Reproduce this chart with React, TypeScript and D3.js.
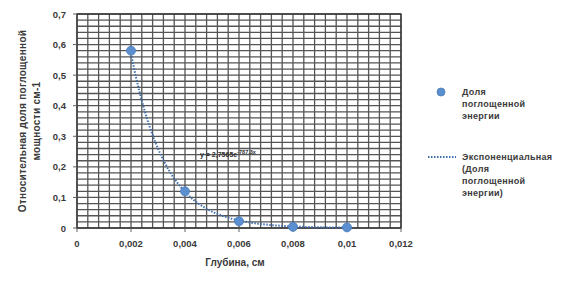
import React from "react";
import * as d3 from "d3";

const depths = [0.002, 0.004, 0.006, 0.008, 0.01];
const shares = [0.58, 0.12, 0.022, 0.004, 0.002];
const xTicks = [0, 0.002, 0.004, 0.006, 0.008, 0.01, 0.012];
const xTickLabels = ["0", "0,002", "0,004", "0,006", "0,008", "0,01", "0,012"];
const yTicks = [0, 0.1, 0.2, 0.3, 0.4, 0.5, 0.6, 0.7];
const yTickLabels = ["0", "0,1", "0,2", "0,3", "0,4", "0,5", "0,6", "0,7"];
const trendA = 2.7565;
const trendB = -787.3;
const legendSeries = ["Доля", "поглощенной", "энергии"];
const legendTrend = ["Экспоненциальная", "(Доля", "поглощенной", "энергии)"];
const yTitle = ["Относительная доля поглощенной", "мощности см-1"];
const xTitle = "Глубина, см";

const W = 568, H = 287;
const left = 77, right = 401, top = 14, bottom = 228;
const font = "'Liberation Sans', Arial, sans-serif";
const txt = "#3a3a3a";

export default function App() {
  const x = d3.scaleLinear().domain([0, 0.012]).range([left, right]);
  const y = d3.scaleLinear().domain([0, 0.7]).range([bottom, top]);
  const xGrid = d3.range(0, 31).map((i) => i * 0.0004);
  const yGrid = d3.range(0, 36).map((i) => i * 0.02);
  const trendXs = d3.range(0, 81).map((i) => depths[0] + (i / 80) * (depths[depths.length - 1] - depths[0]));
  const trendLine = d3
    .line<number>()
    .x((d) => x(d))
    .y((d) => y(trendA * Math.exp(trendB * d)))
    .curve(d3.curveMonotoneX);

  return (
    <svg width={W} height={H} style={{ position: "absolute", left: 0, top: 0 }} fontFamily={font}>
      <rect x={0} y={0} width={W} height={H} fill="#fff" />
      {xGrid.map((v, i) => (
        <line key={"xg" + i} x1={x(v)} x2={x(v)} y1={top} y2={bottom} stroke="#555" strokeWidth={1.3} />
      ))}
      {yGrid.map((v, i) => (
        <line key={"yg" + i} x1={left} x2={right} y1={y(v)} y2={y(v)} stroke="#555" strokeWidth={1.3} />
      ))}
      <rect x={left} y={top} width={right - left} height={bottom - top} fill="none" stroke="#333" strokeWidth={1.3} />
      {yTicks.map((v, i) => (
        <line key={"yt" + i} x1={left - 4} x2={left} y1={y(v)} y2={y(v)} stroke="#606060" />
      ))}
      {xTicks.map((v, i) => (
        <line key={"xt" + i} x1={x(v)} x2={x(v)} y1={bottom} y2={bottom + 4} stroke="#606060" />
      ))}
      {yTicks.map((v, i) => (
        <text key={"yl" + i} x={66} y={y(v) + 3.5} textAnchor="end" fontSize={9.5} fontWeight="bold" fill={txt}>
          {yTickLabels[i]}
        </text>
      ))}
      {xTicks.map((v, i) => (
        <text key={"xl" + i} x={x(v)} y={247} textAnchor="middle" fontSize={9.5} fontWeight="bold" fill={txt}>
          {xTickLabels[i]}
        </text>
      ))}
      <text x={235} y={266} textAnchor="middle" fontSize={10} fontWeight="bold" fill={txt}>
        {xTitle}
      </text>
      <g transform="translate(26,121) rotate(-90)">
        <text x={0} y={0} textAnchor="middle" fontSize={10} fontWeight="bold" fill={txt} letterSpacing={0.3}>
          {yTitle[0]}
        </text>
        <text x={0} y={14} textAnchor="middle" fontSize={10} fontWeight="bold" fill={txt} letterSpacing={0.3}>
          {yTitle[1]}
        </text>
      </g>
      <path d={trendLine(trendXs) || ""} fill="none" stroke="#3f6fae" strokeWidth={2} strokeDasharray="1.5,1.5" />
      {depths.map((d, i) => (
        <circle key={"p" + i} cx={x(d)} cy={y(shares[i])} r={4.5} fill="#5b8fd0" stroke="#4a7ebb" strokeWidth={0.8} />
      ))}
      <text x={200} y={157} fontSize={7} fontWeight="bold" fill="#303030">
        y = 2,7565e<tspan dy={-3} fontSize={5.5}>-787,3x</tspan>
      </text>
      <circle cx={441} cy={92} r={4} fill="#5b8fd0" stroke="#4a7ebb" strokeWidth={0.8} />
      {legendSeries.map((s, i) => (
        <text key={"ls" + i} x={462} y={95 + i * 12} fontSize={9} fontWeight="bold" fill={txt} letterSpacing={0.3}>
          {s}
        </text>
      ))}
      <line x1={428} x2={456} y1={157} y2={157} stroke="#3f6fae" strokeWidth={2} strokeDasharray="1.5,1.5" />
      {legendTrend.map((s, i) => (
        <text key={"lt" + i} x={462} y={160 + i * 12} fontSize={9} fontWeight="bold" fill={txt} letterSpacing={0.3}>
          {s}
        </text>
      ))}
    </svg>
  );
}
